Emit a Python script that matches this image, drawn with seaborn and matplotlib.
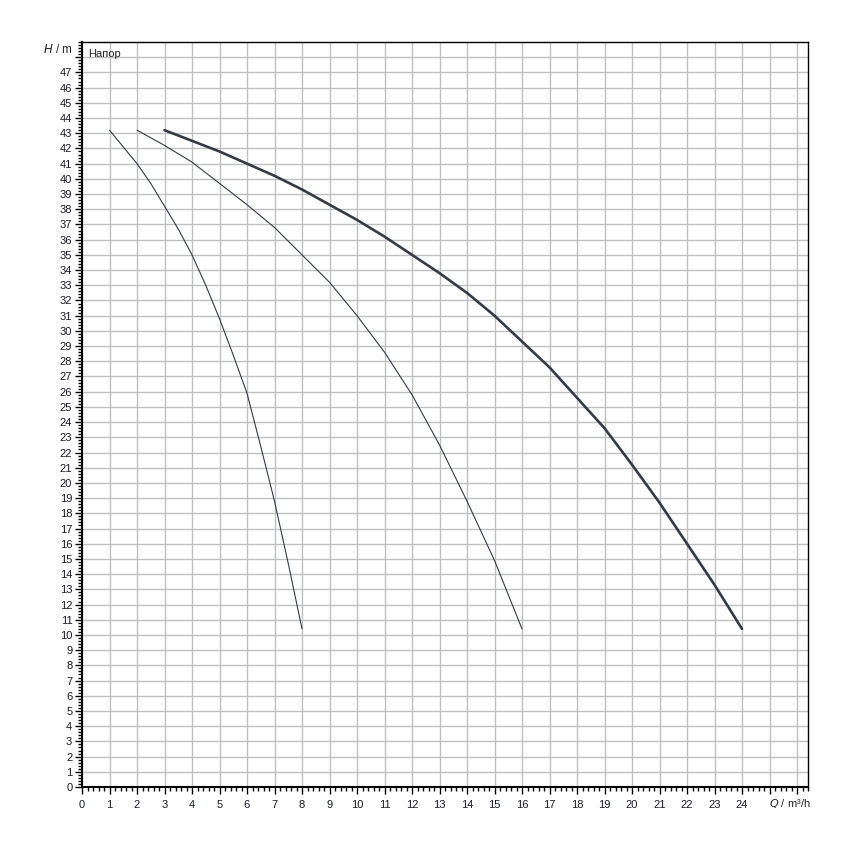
import numpy as np
import pandas as pd
import matplotlib
matplotlib.use("Agg")
import matplotlib.pyplot as plt
import seaborn as sns
from matplotlib.ticker import MultipleLocator, FixedLocator

# Pump curves: flow Q (m3/h) vs head H (m)
q_small = [1, 1.5, 2, 2.5, 3, 3.5, 4, 4.5, 5, 5.5, 6, 6.5, 7, 7.5, 8]
h_small = [43.2, 42.1, 41.0, 39.7, 38.2, 36.7, 35.0, 33.0, 30.8, 28.4, 25.9, 22.4, 18.8, 14.7, 10.4]

q_mid = [2, 3, 4, 5, 6, 7, 8, 9, 10, 11, 12, 13, 14, 15, 16]
h_mid = [43.2, 42.2, 41.1, 39.7, 38.3, 36.8, 35.0, 33.2, 31.0, 28.6, 25.8, 22.5, 18.8, 14.9, 10.4]

q_big = [3, 4, 5, 6, 7, 8, 9, 10, 11, 12, 13, 14, 15, 16, 17, 18, 19, 20, 21, 22, 23, 24]
h_big = [43.2, 42.5, 41.8, 41.0, 40.2, 39.3, 38.3, 37.3, 36.2, 35.0, 33.8, 32.5, 31.0, 29.3,
         27.6, 25.6, 23.6, 21.2, 18.7, 16.0, 13.3, 10.4]

x_labels = [str(i) for i in range(25)]
y_labels = [str(i) for i in range(48)]

sns.set_style("white")
plt.rcParams['font.family'] = ['Liberation Sans', 'DejaVu Sans']

fig = plt.figure(figsize=(8.5, 8.5), dpi=100)
ax = fig.add_axes([82 / 850, 1 - 787 / 850, 726 / 850, 745 / 850])

line_col = '#343b48'
sns.lineplot(x=q_small, y=h_small, ax=ax, sort=False, color=line_col, linewidth=0.8)
sns.lineplot(x=q_mid, y=h_mid, ax=ax, sort=False, color=line_col, linewidth=0.8)
sns.lineplot(x=q_big, y=h_big, ax=ax, sort=False, color=line_col, linewidth=1.9)

ax.set_xlim(0, 26.4)
ax.set_ylim(0, 49)

# major ticks every unit, minor every 0.2
ax.xaxis.set_major_locator(FixedLocator(range(27)))
ax.yaxis.set_major_locator(FixedLocator(range(49)))
ax.xaxis.set_minor_locator(MultipleLocator(0.2))
ax.yaxis.set_minor_locator(MultipleLocator(0.2))
ax.set_xticklabels(x_labels + ['', ''])
ax.set_yticklabels(y_labels + [''])

ax.tick_params(which='both', bottom=True, left=True, top=False, right=False)
ax.tick_params(which='major', direction='out', length=5, width=1, color='black',
               labelsize=8, labelcolor='#1a1a2a', pad=2)
ax.tick_params(which='minor', direction='out', length=3, width=1, color='black')
ax.tick_params(axis='x', pad=4)

ax.grid(True, which='major', color='#c0c0c0', linewidth=1)
ax.set_axisbelow(True)
for s in ax.spines.values():
    s.set_visible(True)
    s.set_color('black')
    s.set_linewidth(1)
ax.spines['left'].set_linewidth(1.5)
ax.spines['bottom'].set_linewidth(1.5)

ax.set_xlabel('')
ax.set_ylabel('')

# axis titles in the corners
ax.text(-0.35, 48.5, r'$\it{H}$ / m', ha='right', va='center', fontsize=8.5)
ax.text(0.22, 48.2, 'Напор', ha='left', va='center', fontsize=8)
ax.text(25.75, -1.1, r'$\it{Q}$ / m³/h', ha='center', va='center', fontsize=8)

fig.savefig('out.png', dpi=100)
